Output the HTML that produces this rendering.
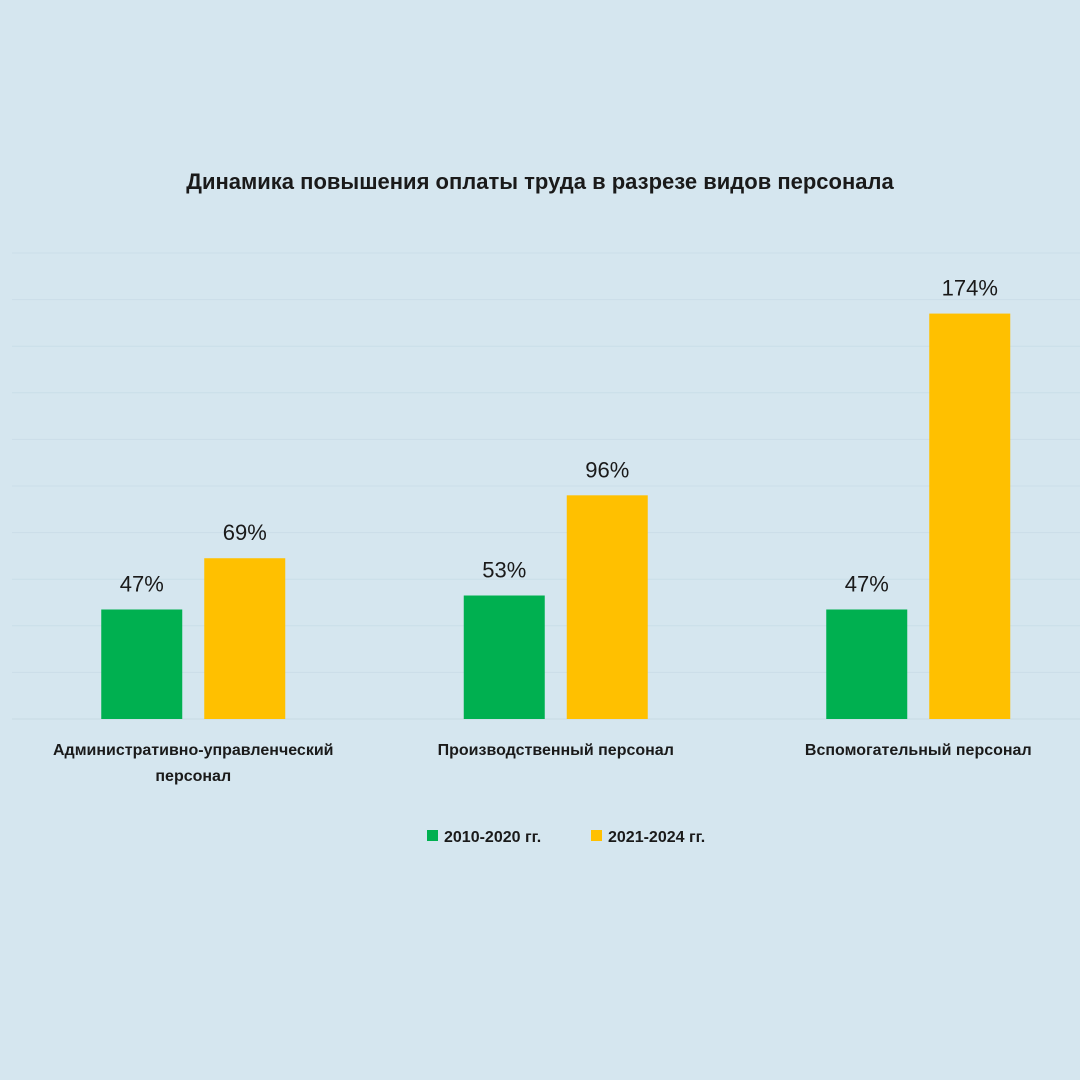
<!DOCTYPE html>
<html><head><meta charset="utf-8"><style>
body{margin:0;background:#d5e6ef;}
svg{display:block;font-family:"Liberation Sans",sans-serif;}
</style></head><body>
<svg id="chart" width="1080" height="1080">
<rect width="1080" height="1080" fill="#d5e6ef"/>
<text x="540" y="189" text-anchor="middle" font-size="22" font-weight="bold" fill="#1a1a1a">Динамика повышения оплаты труда в разрезе видов персонала</text>
<g id="grid"></g><g id="bars"></g><g id="labels"></g>
<g>
<rect x="427" y="830" width="11" height="11" fill="#00b050"/>
<text x="444" y="842" font-size="16" font-weight="bold" fill="#1a1a1a">2010-2020 гг.</text>
<rect x="591" y="830" width="11" height="11" fill="#ffc000"/>
<text x="608" y="842" font-size="16" font-weight="bold" fill="#1a1a1a">2021-2024 гг.</text>
</g>
</svg>
<script>
const categories=[["Административно-управленческий","персонал"],["Производственный персонал"],["Вспомогательный персонал"]];
const series1=[47,53,47];
const series2=[69,96,174];
const valueLabels1=["47%","53%","47%"];
const valueLabels2=["69%","96%","174%"];
const gridTicks=[0,20,40,60,80,100,120,140,160,180,200];
const NS="http://www.w3.org/2000/svg";
const base=719,top0=253,yMax=200,x0=12,catW=362.5;
const y=v=>base-(v/yMax)*(base-top0);
const cx=i=>x0+catW*(i+0.5);
function mk(t,a,p){const e=document.createElementNS(NS,t);for(const k in a)e.setAttribute(k,a[k]);p.appendChild(e);return e;}
const g=document.getElementById('grid'),b=document.getElementById('bars'),l=document.getElementById('labels');
gridTicks.forEach(t=>{const e=mk('line',{x1:12,x2:1080,y1:y(t),y2:y(t),stroke:t===0?'#c6d9e3':'#cadde8','stroke-width':1},g);

});
categories.forEach((c,i)=>{
 const c1=cx(i);
 [[series1,valueLabels1,'#00b050',-92],[series2,valueLabels2,'#ffc000',11]].forEach(([s,vl,col,off],k)=>{
  const r=mk('rect',{x:c1+off,y:y(s[i]),width:81,height:base-y(s[i]),fill:col},b);
  
  
  const t=mk('text',{x:c1+off+40.5,y:y(s[i])-18,'text-anchor':'middle','font-size':22,fill:'#1a1a1a',transform:''},l);
  t.textContent=vl[i];
  
  
 });
 c.forEach((line,j)=>{const t=mk('text',{x:c1,y:755+j*26,'text-anchor':'middle','font-size':16,'font-weight':'bold',fill:'#1a1a1a'},l);
 t.textContent=line;
 
 });
});
</script>
</body></html>
